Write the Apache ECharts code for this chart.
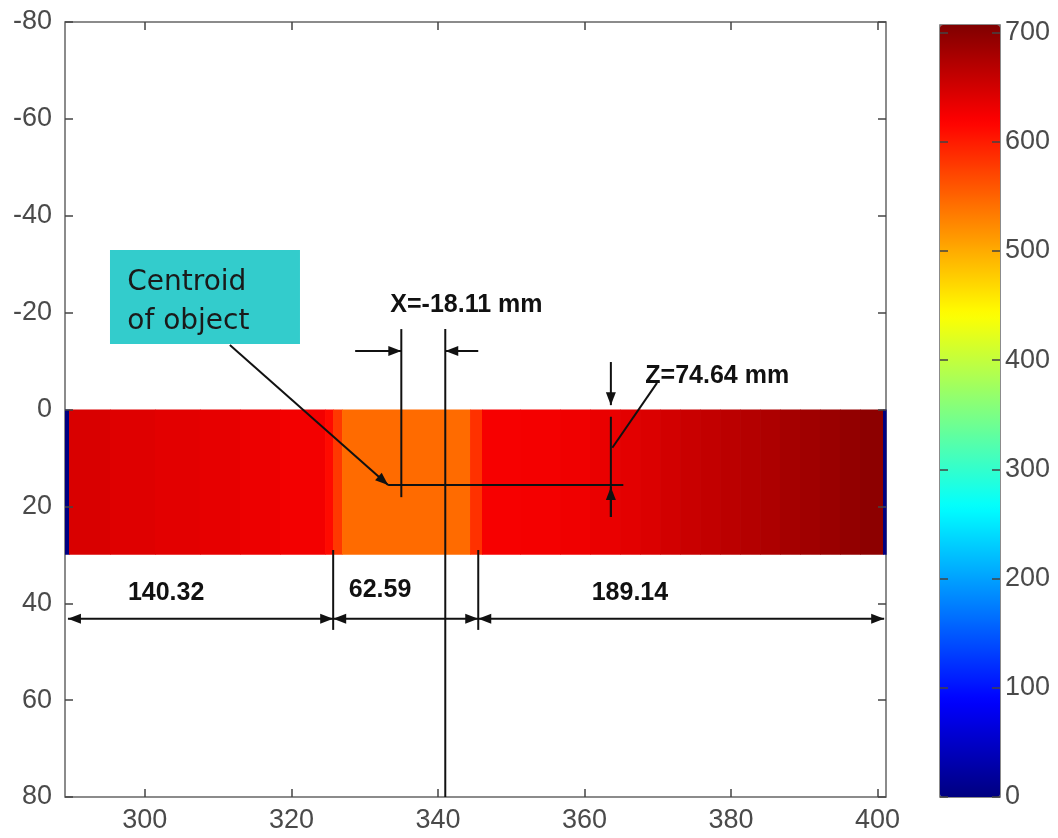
<!DOCTYPE html>
<html>
<head>
<meta charset="utf-8">
<script src="https://cdn.jsdelivr.net/npm/echarts@6/dist/echarts.min.js"></script>
<style>
  html, body { margin: 0; padding: 0; background: #ffffff; }
  #chart { width: 1058px; height: 838px; }
</style>
</head>
<body>
<div id="chart"></div>
<script>
// ---- Intensity profile of the scanned object (band from y = 0 to y = 30) ----
const columnEdges = [289.10, 289.65, 295.24, 301.38, 307.52, 312.98, 318.44, 324.59, 325.68, 326.91,
                     344.38, 346.01, 351.20, 356.66, 360.75, 364.85, 367.58, 370.31, 373.04, 375.77,
                     378.50, 381.23, 383.96, 386.68, 389.41, 392.14, 394.87, 397.60, 400.74, 401.15];
const columnValues = [0, 645, 641, 638, 635, 631, 627, 612, 580, 545,
                      585, 624, 626, 629, 633, 638, 644, 650, 656, 661,
                      666, 671, 676, 681, 685, 689, 694, 698, 0];
const bandY = [0, 30];

// ---- Axis ranges and tick labels ----
const xRange = [289.1, 401.15];
const yRange = [-80, 80];
const xTicks = [300, 320, 340, 360, 380, 400];
const colorRange = [0, 707];
const colorTicks = [0, 100, 200, 300, 400, 500, 600, 700];

// Jet colour map, evenly spaced stops
const jet = ['#000080', '#0000FF', '#0080FF', '#00FFFF', '#80FF80', '#FFFF00', '#FF8000', '#FF0000', '#800000'];

// ---- Annotation geometry (data coordinates) ----
// [x0, y0, x1, y1, arrowAtStart, arrowAtEnd]
const segments = [
  [289.5, 43.2, 325.7, 43.2, 1, 1],     // 140.32 dimension
  [325.7, 43.2, 345.5, 43.2, 1, 1],     // 62.59 dimension
  [345.5, 43.2, 400.9, 43.2, 1, 1],     // 189.14 dimension
  [325.7, 29.0, 325.7, 45.5, 0, 0],     // extension line
  [345.5, 29.0, 345.5, 45.5, 0, 0],     // extension line
  [341.0, -16.6, 341.0, 80, 0, 0],      // reference line
  [335.0, -16.6, 335.0, 18.1, 0, 0],    // centroid x line
  [328.7, -12.1, 335.0, -12.1, 0, 1],   // X offset arrow (left)
  [345.5, -12.1, 341.0, -12.1, 0, 1],   // X offset arrow (right)
  [333.2, 15.6, 365.3, 15.6, 0, 0],     // centroid z line
  [311.6, -13.3, 333.2, 15.6, 0, 1],    // leader from callout
  [363.6, 1.5, 363.6, 22.2, 0, 0],      // Z dimension line
  [363.6, -9.8, 363.6, -0.9, 0, 1],     // Z arrow (top)
  [363.6, 22.2, 363.6, 16.0, 0, 1],     // Z arrow (bottom)
  [363.8, 7.9, 369.9, -5.5, 0, 0]       // Z leader
];
const labelPos = [[333.5, -21.6], [368.3, -6.9], [302.9, 37.9], [332.1, 37.3], [366.2, 37.9]];
const labelText = ['X=-18.11 mm', 'Z=74.64 mm', '140.32', '62.59', '189.14'];
const labelAlign = ['left', 'left', 'center', 'center', 'center'];
const calloutBox = [295.24, -32.93, 321.17, -13.53];
const calloutLines = ['Centroid', 'of object'];
const calloutLinePos = [[297.6, -26.1], [297.6, -18.1]];

const tickFont = { fontFamily: 'Liberation Sans', fontSize: 27, color: '#4a4a4a' };
const tickStyle = { color: '#444', width: 1.5 };

const heatData = columnValues.map((v, i) => [columnEdges[i], columnEdges[i + 1], v]);
const segData = segments.map(s => s.slice());
const labelData = labelPos.map((p, i) => [p[0], p[1], i]);

function arrowHead(tip, from, len, half) {
  const dx = tip[0] - from[0], dy = tip[1] - from[1];
  const d = Math.hypot(dx, dy) || 1;
  const ux = dx / d, uy = dy / d;
  const bx = tip[0] - ux * len, by = tip[1] - uy * len;
  return {
    type: 'polygon',
    shape: { points: [tip, [bx - uy * half, by + ux * half], [bx + uy * half, by - ux * half]] },
    style: { fill: '#111' }
  };
}

function frameAxis(extra) {
  return Object.assign({
    type: 'value', z: 10,
    axisLine: { show: false, onZero: false },
    splitLine: { show: false }
  }, extra);
}

const chart = echarts.init(document.getElementById('chart'), null, { renderer: 'canvas' });

chart.setOption({
  animation: false,
  backgroundColor: '#ffffff',
  grid: [
    { left: 65, top: 22, width: 821, height: 775, show: true, borderColor: '#666', borderWidth: 1.5, backgroundColor: 'transparent' },
    { left: 940, top: 25, width: 60, height: 772, show: true, borderColor: '#666', borderWidth: 1.5, backgroundColor: 'transparent' }
  ],
  xAxis: [
    frameAxis({
      gridIndex: 0, min: xRange[0], max: xRange[1], position: 'bottom',
      axisTick: { inside: true, length: 8, lineStyle: tickStyle, customValues: xTicks },
      axisLabel: Object.assign({ margin: 10, customValues: xTicks }, tickFont)
    }),
    frameAxis({
      gridIndex: 0, min: xRange[0], max: xRange[1], position: 'top',
      axisTick: { inside: true, length: 8, lineStyle: tickStyle, customValues: xTicks },
      axisLabel: { show: false }
    }),
    { type: 'value', gridIndex: 1, min: 0, max: 1, show: false }
  ],
  yAxis: [
    frameAxis({
      gridIndex: 0, min: yRange[0], max: yRange[1], interval: 20, inverse: true, position: 'left',
      axisTick: { inside: true, length: 8, lineStyle: tickStyle },
      axisLabel: Object.assign({ margin: 13 }, tickFont)
    }),
    frameAxis({
      gridIndex: 0, min: yRange[0], max: yRange[1], interval: 20, inverse: true, position: 'right',
      axisTick: { inside: true, length: 8, lineStyle: tickStyle },
      axisLabel: { show: false }
    }),
    frameAxis({
      gridIndex: 1, min: colorRange[0], max: colorRange[1], position: 'right',
      axisTick: { inside: true, length: 8, lineStyle: tickStyle, customValues: colorTicks },
      axisLabel: Object.assign({ margin: 5, customValues: colorTicks }, tickFont)
    }),
    frameAxis({
      gridIndex: 1, min: colorRange[0], max: colorRange[1], position: 'left',
      axisTick: { inside: true, length: 8, lineStyle: tickStyle, customValues: colorTicks },
      axisLabel: { show: false }
    })
  ],
  visualMap: {
    type: 'continuous',
    min: colorRange[0], max: colorRange[1],
    dimension: 2,
    seriesIndex: [0],
    calculable: false,
    hoverLink: false,
    realtime: false,
    orient: 'vertical',
    left: 940, top: 25,
    itemWidth: 60, itemHeight: 772,
    padding: 0,
    text: null,
    inRange: { color: jet }
  },
  series: [
    {
      // intensity band
      type: 'custom', xAxisIndex: 0, yAxisIndex: 0, z: 2,
      data: heatData,
      encode: { x: [0, 1], y: 2 },
      renderItem: function (params, api) {
        const p0 = api.coord([api.value(0), bandY[0]]);
        const p1 = api.coord([api.value(1), bandY[1]]);
        return {
          type: 'rect',
          shape: { x: p0[0], y: Math.min(p0[1], p1[1]), width: p1[0] - p0[0] + 0.6, height: Math.abs(p1[1] - p0[1]) },
          style: { fill: api.visual('color') }
        };
      }
    },
    {
      // callout box
      type: 'custom', xAxisIndex: 0, yAxisIndex: 0, z: 4, silent: true,
      data: [calloutBox],
      encode: { x: [0, 2], y: [1, 3] },
      renderItem: function (params, api) {
        const a = api.coord([api.value(0), api.value(1)]);
        const b = api.coord([api.value(2), api.value(3)]);
        const children = [{
          type: 'rect',
          shape: { x: a[0], y: a[1], width: b[0] - a[0], height: b[1] - a[1] },
          style: { fill: '#33CCCC' }
        }];
        calloutLines.forEach(function (t, i) {
          const p = api.coord(calloutLinePos[i]);
          children.push({
            type: 'text', x: p[0], y: p[1],
            style: { text: t, fill: '#1a1a1a', font: '28px "DejaVu Sans"', align: 'left', verticalAlign: 'middle' }
          });
        });
        return { type: 'group', children: children };
      }
    },
    {
      // annotation lines and arrows
      type: 'custom', xAxisIndex: 0, yAxisIndex: 0, z: 5, silent: true,
      data: segData,
      encode: { x: [0, 2], y: [1, 3] },
      renderItem: function (params, api) {
        const p0 = api.coord([api.value(0), api.value(1)]);
        const p1 = api.coord([api.value(2), api.value(3)]);
        const children = [{
          type: 'line',
          shape: { x1: p0[0], y1: p0[1], x2: p1[0], y2: p1[1] },
          style: { stroke: '#111', lineWidth: 2 }
        }];
        if (api.value(4)) children.push(arrowHead(p0, p1, 13, 5));
        if (api.value(5)) children.push(arrowHead(p1, p0, 13, 5));
        return { type: 'group', children: children };
      }
    },
    {
      // annotation texts
      type: 'custom', xAxisIndex: 0, yAxisIndex: 0, z: 6, silent: true,
      data: labelData,
      encode: { x: 0, y: 1 },
      renderItem: function (params, api) {
        const p = api.coord([api.value(0), api.value(1)]);
        const i = params.dataIndex;
        return {
          type: 'text', x: p[0], y: p[1],
          style: { text: labelText[i], fill: '#111', font: 'bold 25px "Liberation Sans"', align: labelAlign[i], verticalAlign: 'middle' }
        };
      }
    }
  ]
});
</script>
</body>
</html>
